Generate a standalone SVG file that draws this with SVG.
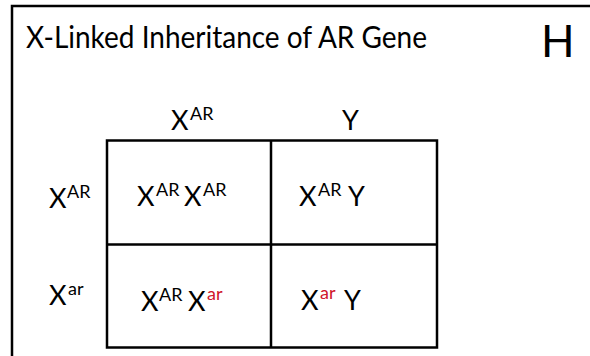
<svg xmlns="http://www.w3.org/2000/svg" width="590" height="356" viewBox="0 0 590 356">
<style>
.t{font-family:Lato,"Liberation Sans",sans-serif;fill:#000}
.x{font-size:27px}
.s{font-size:18px}
.red{fill:#D0142A}
.ln{stroke:#000;stroke-width:2.5;fill:none}
</style>
<rect width="590" height="356" fill="#fff"/>
<g id="frame"><path class="ln" d="M12,356 V6 H590" stroke-width="2"/></g>
<g id="title"><text class="t" x="26" y="48" font-size="31" textLength="401" lengthAdjust="spacingAndGlyphs">X-Linked Inheritance of AR Gene</text></g>
<g id="label-h"><text class="t" x="541" y="57" font-size="44">H</text></g>
<g id="grid">
<rect class="ln" x="107" y="140.5" width="330" height="207"/>
<path class="ln" d="M271,140.5 V347.5 M107,244.5 H437"/>
</g>
<g id="col1"><text class="t"><tspan class="x" x="171" y="130">X</tspan><tspan class="s" x="190" y="120">AR</tspan></text></g>
<g id="col2"><text class="t x" x="342" y="130">Y</text></g>
<g id="row1"><text class="t"><tspan class="x" x="49" y="208">X</tspan><tspan class="s" x="67" y="198">AR</tspan></text></g>
<g id="row2"><text class="t"><tspan class="x" x="49" y="305">X</tspan><tspan class="s" x="68" y="295">ar</tspan></text></g>
<g id="cell11"><text class="t"><tspan class="x" x="137" y="206">X</tspan><tspan class="s" x="156" y="196">AR</tspan><tspan class="x" x="184" y="206">X</tspan><tspan class="s" x="203" y="196">AR</tspan></text></g>
<g id="cell12"><text class="t"><tspan class="x" x="299" y="206">X</tspan><tspan class="s" x="318" y="196">AR</tspan><tspan class="x" x="348" y="206">Y</tspan></text></g>
<g id="cell21"><text class="t"><tspan class="x" x="141" y="311">X</tspan><tspan class="s" x="159" y="301">AR</tspan><tspan class="x" x="188" y="311">X</tspan><tspan class="s red" x="207" y="300">ar</tspan></text></g>
<g id="cell22"><text class="t"><tspan class="x" x="301" y="310">X</tspan><tspan class="s red" x="320" y="299">ar</tspan><tspan class="x" x="344" y="310">Y</tspan></text></g>
</svg>
